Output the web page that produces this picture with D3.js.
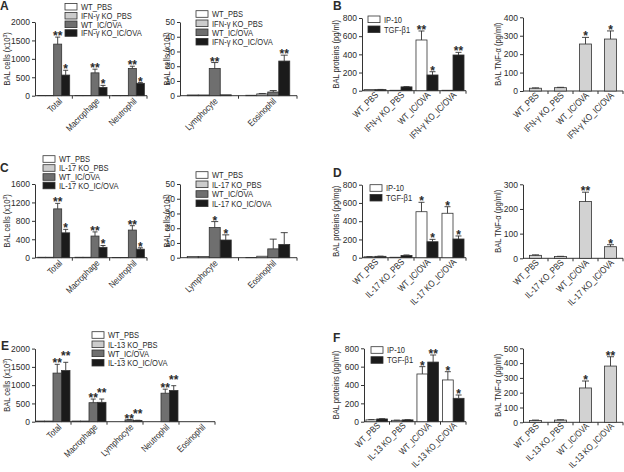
<!DOCTYPE html>
<html><head><meta charset="utf-8">
<script src="https://cdn.jsdelivr.net/npm/d3@7"></script>
<style>
body{margin:0;background:#fff}
svg{display:block}
text{font-family:"Liberation Sans",Arial,Helvetica,sans-serif;fill:#2b2b2b}
</style>
</head><body>
<svg id="chart" width="624" height="472"></svg>
<script>
// ---------------- DATA ----------------
const cellFills = ["#ffffff","#cccccc","#6f6f6f","#1b1b1b"];
const legendA = ["WT_PBS","IFN-\u03b3 KO_PBS","WT_IC/OVA","IFN-\u03b3 KO_IC/OVA"];
const legendC = ["WT_PBS","IL-17 KO_PBS","WT_IC/OVA","IL-17 KO_IC/OVA"];
const legendE = ["WT_PBS","IL-13 KO_PBS","WT_IC/OVA","IL-13 KO_IC/OVA"];
const protLegend = ["IP-10","TGF-\u03b21"];

const bigCells = ["Total","Macrophage","Neutrophil"];
const smallCells = ["Lymphocyte","Eosinophil"];
const allCells = ["Total","Macrophage","Lymphocyte","Neutrophil","Eosinophil"];

// Panel A (series order: WT_PBS, KO_PBS, WT_IC/OVA, KO_IC/OVA)
const aBigMeans = [[8,8,5],[8,8,5],[1400,620,740],[560,225,335]];
const aBigErrs  = [[0,0,0],[0,0,0],[190,100,60],[130,55,20]];
const aBigStars = [["","",""],["","",""],["**","**","**"],["*","*","*"]];
const aSmallMeans = [[0.5,0.3],[0.5,1.2],[18.5,2.5],[0.6,23.5]];
const aSmallErrs  = [[0,0],[0,0.3],[4,1],[0,4]];
const aSmallStars = [["",""],["",""],["**",""],["","**"]];

// Panel C
const cBigMeans = [[10,10,3],[10,10,3],[1060,470,600],[540,225,185]];
const cBigErrs  = [[0,0,0],[0,0,0],[120,90,95],[75,40,30]];
const cBigStars = [["","",""],["","",""],["**","**","**"],["*","*","*"]];
const cSmallMeans = [[0.8,0.2],[0.8,1],[20.5,6],[12,9]];
const cSmallErrs  = [[0,0],[0,0],[4,6.6],[3.5,8]];
const cSmallStars = [["",""],["",""],["*",""],["*",""]];

// Panel E
const eMeans = [[18,18,0,0,0],[18,18,0,0,0],[1330,520,50,780,0],[1400,530,35,855,0]];
const eErrs  = [[0,0,0,0,0],[0,0,0,0,0],[240,100,8,110,0],[225,90,5,130,0]];
const eStars = [["","","","",""],["","","","",""],["**","**","**","**",""],["**","**","**","**",""]];

// Panel B
const bGroups = ["WT_PBS","IFN-\u03b3 KO_PBS","WT_IC/OVA","IFN-\u03b3 KO_IC/OVA"];
const bIP10 = [12,5,558,5];
const bIP10Err = [0,0,99,0];
const bTGF = [12,42,173,393];
const bTGFErr = [2,3,36,29];
const bIP10Stars = ["","","**",""];
const bTGFStars = ["","","*","**"];
const bTNF = [15,18,255,282];
const bTNFErr = [2,2,36,44];
const bTNFStars = ["","","*","*"];

// Panel D
const dGroups = ["WT_PBS","IL-17 KO_PBS","WT_IC/OVA","IL-17 KO_IC/OVA"];
const dIP10 = [10,5,504,487];
const dIP10Err = [2,0,103,72];
const dTGF = [15,25,175,205];
const dTGFErr = [2,5,26,33];
const dIP10Stars = ["","","*","*"];
const dTGFStars = ["","","*","*"];
const dTNF = [12,7,230,47];
const dTNFErr = [2,1,38,8];
const dTNFStars = ["","","**","*"];

// Panel F
const fGroups = ["WT_PBS","IL-13 KO_PBS","WT_IC/OVA","IL-13 KO_IC/OVA"];
const fIP10 = [20,15,520,455];
const fIP10Err = [3,2,80,90];
const fTGF = [30,20,650,255];
const fTGFErr = [3,2,77,36];
const fIP10Stars = ["","","*","*"];
const fTGFStars = ["","","**","*"];
const fTNF = [12,15,232,380];
const fTNFErr = [3,2,47,63];
const fTNFStars = ["","","*","**"];

// ---------------- DRAWING ----------------
const svg = d3.select("#chart");
const INK = "#333";
const NARROW = 0.84;   // horizontal squeeze imitating a condensed face

function drawPanel(p){
  const g = svg.append("g");
  const y = d3.scaleLinear().domain([0,p.yMax]).range([p.y0,p.y1]);
  const xg = d3.scaleBand().domain(p.groups).range([p.x0,p.x1]);
  const xs = d3.scaleBand().domain(d3.range(p.means.length))
      .range([0,xg.bandwidth()]).paddingInner(0).paddingOuter(p.pad);
  const bw = xs.bandwidth();

  // y axis
  const ya = d3.axisLeft(y).tickValues(p.ticks).tickFormat(d3.format("d"))
      .tickSize(3).tickSizeOuter(0).tickPadding(2);
  const ag = g.append("g").attr("transform",`translate(${p.x0},0)`).call(ya);
  ag.attr("font-family",null).attr("font-size",null);
  ag.select(".domain").attr("stroke",INK).attr("stroke-width",1);
  ag.selectAll(".tick line").attr("stroke",INK);
  ag.selectAll(".tick text").attr("font-size",8.5).attr("fill","#2b2b2b");

  // x axis
  g.append("line").attr("x1",p.x0).attr("x2",p.x1).attr("y1",p.y0).attr("y2",p.y0)
    .attr("stroke",INK).attr("stroke-width",1);
  p.groups.forEach(d=>{
    const bx = xg(d)+xg.bandwidth();
    g.append("line").attr("x1",bx).attr("x2",bx).attr("y1",p.y0).attr("y2",p.y0+3)
      .attr("stroke",INK);
    const cx = xg(d)+xg.bandwidth()/2;
    g.append("text").attr("text-anchor","end").attr("font-size",p.lfs)
      .attr("transform",`translate(${cx+p.ldx},${p.y0+p.ldy}) rotate(-45) scale(${NARROW},1)`).text(d);
  });

  // bars
  p.means.forEach((arr,si)=>{
    arr.forEach((v,gi)=>{
      const gx = xg(p.groups[gi]) + xs(si);
      const cx = gx + bw/2;
      const e = p.errs[si][gi];
      g.append("rect").attr("x",gx).attr("y",y(v)).attr("width",bw)
        .attr("height",Math.max(0,y(0)-y(v))).attr("fill",p.fills[si])
        .attr("stroke",INK).attr("stroke-width",0.8);
      if(e>0){
        g.append("line").attr("x1",cx).attr("x2",cx).attr("y1",y(v)).attr("y2",y(v+e))
          .attr("stroke",INK).attr("stroke-width",0.9);
        g.append("line").attr("x1",cx-p.cap).attr("x2",cx+p.cap).attr("y1",y(v+e)).attr("y2",y(v+e))
          .attr("stroke",INK).attr("stroke-width",0.9);
      }
      const s = p.stars[si][gi];
      if(s){
        const lift = p.starLift ? p.starLift[si] : 0;
        g.append("text").attr("x",cx).attr("y",y(v+e)+3-lift)
          .attr("text-anchor","middle").attr("font-size",12).attr("font-weight","bold").text(s);
      }
    });
  });

  // y label
  const yl = g.append("text").attr("text-anchor","middle").attr("font-size",9)
    .attr("transform",`translate(${p.ylx},${(p.y0+p.y1)/2}) rotate(-90) scale(${NARROW},1)`);
  if(p.sup){
    yl.append("tspan").text(p.ylabel);
    yl.append("tspan").attr("dy",-3.5).attr("font-size",6).text("3");
    yl.append("tspan").attr("dy",3.5).text(")");
  } else yl.text(p.ylabel);

  // legend
  if(p.legend){
    p.legend.names.forEach((n,i)=>{
      const ly = p.legend.rows[i];
      g.append("rect").attr("x",p.legend.x).attr("y",ly-3.3).attr("width",12).attr("height",6.6)
        .attr("fill",p.fills[i]).attr("stroke",INK).attr("stroke-width",0.8);
      g.append("text").attr("font-size",9)
        .attr("transform",`translate(${p.legend.x+16},${ly+3.2}) scale(${NARROW},1)`).text(n);
    });
  }
}

function letter(t,x,y){
  svg.append("text").attr("x",x).attr("y",y).attr("font-size",12).attr("font-weight","bold").text(t);
}

// Panel A
drawPanel({groups:bigCells,means:aBigMeans,errs:aBigErrs,stars:aBigStars,fills:cellFills,
  x0:35,x1:147,y0:95.7,y1:22,yMax:2000,ticks:[0,500,1000,1500,2000],pad:0.33,cap:2.5,
  lfs:9.2,ldx:9,ldy:6,ylx:10,ylabel:"BAL cells (x10",sup:true,
  legend:{names:legendA,x:65,rows:[6.7,15.7,24.3,33]}});
drawPanel({groups:smallCells,means:aSmallMeans,errs:aSmallErrs,stars:aSmallStars,fills:cellFills,
  x0:180,x1:297,y0:95.7,y1:22,yMax:50,ticks:[0,10,20,30,40,50],pad:0.66,cap:3.5,
  lfs:9.2,ldx:9,ldy:6,ylx:170,ylabel:"BAL cells (x10",sup:true,
  legend:{names:legendA,x:196,rows:[14,23.3,32.3,41.7]}});
// Panel C
drawPanel({groups:bigCells,means:cBigMeans,errs:cBigErrs,stars:cBigStars,fills:cellFills,
  x0:35,x1:147,y0:257.7,y1:184,yMax:1600,ticks:[0,400,800,1200,1600],pad:0.33,cap:2.5,
  lfs:9.2,ldx:9,ldy:6,ylx:10,ylabel:"BAL cells (x10",sup:true,
  legend:{names:legendC,x:43,rows:[159,168,177,185.5]}});
drawPanel({groups:smallCells,means:cSmallMeans,errs:cSmallErrs,stars:cSmallStars,fills:cellFills,
  x0:180,x1:297,y0:257.7,y1:184,yMax:50,ticks:[0,10,20,30,40,50],pad:0.66,cap:3.5,
  lfs:9.2,ldx:9,ldy:6,ylx:170,ylabel:"BAL cells (x10",sup:true,
  legend:{names:legendC,x:196,rows:[175,184.3,194,203.3]}});
// Panel E
drawPanel({groups:allCells,means:eMeans,errs:eErrs,stars:eStars,fills:cellFills,starLift:[0,0,0,5],
  x0:35,x1:215,y0:421.7,y1:348.6,yMax:2000,ticks:[0,500,1000,1500,2000],pad:0.12,cap:2.5,
  lfs:9.2,ldx:9,ldy:6,ylx:10,ylabel:"BAL cells (x10",sup:true,
  legend:{names:legendE,x:92,rows:[335,344.3,353.3,362.7]}});

const protFills = ["#ffffff","#1b1b1b"];
const tnfFills = ["#d2d2d2"];
// Panel B
drawPanel({groups:bGroups,means:[bIP10,bTGF],errs:[bIP10Err,bTGFErr],stars:[bIP10Stars,bTGFStars],fills:protFills,
  x0:362,x1:466,y0:90.7,y1:18,yMax:800,ticks:[0,200,400,600,800],pad:0.18,cap:3,
  lfs:9.2,ldx:4,ldy:5,ylx:339,ylabel:"BAL proteins (pg/ml)",
  legend:{names:protLegend,x:368,rows:[19.3,29.3]}});
drawPanel({groups:bGroups,means:[bTNF],errs:[bTNFErr],stars:[bTNFStars],fills:tnfFills,
  x0:523,x1:623,y0:91,y1:17.3,yMax:400,ticks:[0,100,200,300,400],pad:0.54,cap:3.5,
  lfs:9.2,ldx:4,ldy:5,ylx:501,ylabel:"BAL TNF-\u03b1 (pg/ml)"});
// Panel D
drawPanel({groups:dGroups,means:[dIP10,dTGF],errs:[dIP10Err,dTGFErr],stars:[dIP10Stars,dTGFStars],fills:protFills,
  x0:362,x1:466,y0:257.7,y1:184.7,yMax:800,ticks:[0,200,400,600,800],pad:0.18,cap:3,
  lfs:9.2,ldx:4,ldy:5,ylx:339,ylabel:"BAL proteins (pg/mg)",
  legend:{names:protLegend,x:370,rows:[188,197.7]}});
drawPanel({groups:dGroups,means:[dTNF],errs:[dTNFErr],stars:[dTNFStars],fills:tnfFills,
  x0:523,x1:623,y0:258.3,y1:184.3,yMax:300,ticks:[0,100,200,300],pad:0.54,cap:3.5,
  lfs:9.2,ldx:4,ldy:5,ylx:501,ylabel:"BAL TNF-\u03b1 (pg/ml)"});
// Panel F
drawPanel({groups:fGroups,means:[fIP10,fTGF],errs:[fIP10Err,fTGFErr],stars:[fIP10Stars,fTGFStars],fills:protFills,
  x0:364,x1:466,y0:421.7,y1:348.3,yMax:800,ticks:[0,200,400,600,800],pad:0.18,cap:3,
  lfs:9,ldx:4,ldy:4.5,ylx:339,ylabel:"BAL proteins (pg/ml)",
  legend:{names:protLegend,x:371,rows:[350,360]}});
drawPanel({groups:fGroups,means:[fTNF],errs:[fTNFErr],stars:[fTNFStars],fills:tnfFills,
  x0:523,x1:623,y0:422.3,y1:348.3,yMax:500,ticks:[0,100,200,300,400,500],pad:0.54,cap:3.5,
  lfs:9,ldx:4,ldy:4.5,ylx:501,ylabel:"BAL TNF-\u03b1 (pg/ml)"});

letter("A",0,10); letter("B",333,10);
letter("C",0,172); letter("D",333,177);
letter("E",1,350); letter("F",333,342);
</script>
</body></html>
